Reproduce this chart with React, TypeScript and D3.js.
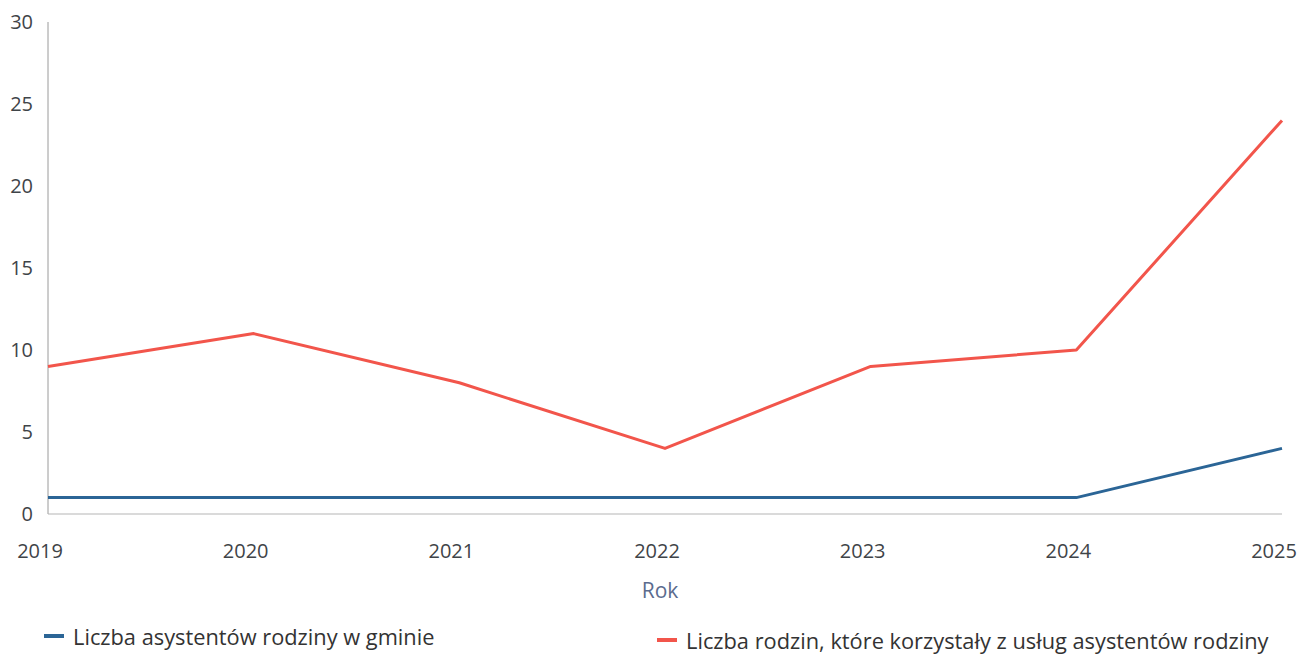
import React from "react";
import * as d3 from "d3";

const years = [2019, 2020, 2021, 2022, 2023, 2024, 2025];
const asystenci = [1, 1, 1, 1, 1, 1, 4];
const rodziny = [9, 11, 8, 4, 9, 10, 24];
const yTicks = [0, 5, 10, 15, 20, 25, 30];
const seriesNames = [
  "Liczba asystentów rodziny w gminie",
  "Liczba rodzin, które korzystały z usług asystentów rodziny",
];
const xTitle = "Rok";

const W = 1309;
const H = 661;
const FONT = "'Open Sans', 'Noto Sans', sans-serif";
const BLUE = "#2b6596";
const RED = "#f2554b";

export default function App() {
  const x = d3.scaleLinear().domain([2019, 2025]).range([48, 1282]);
  const y = d3.scaleLinear().domain([0, 30]).range([514, 22]);
  const line = d3
    .line<number>()
    .x((_, i) => x(years[i]))
    .y((d) => y(d));

  return (
    <div style={{ position: "fixed", left: 0, top: 0, background: "#fff" }}>
      <svg width={W} height={H} style={{ display: "block", fontFamily: FONT }}>
        <rect width={W} height={H} fill="#fff" />
        {/* axes */}
        <line x1={x(2019)} x2={x(2019)} y1={y(30)} y2={y(0)} stroke="#9a9a9a" strokeWidth={1} />
        <line x1={x(2019)} x2={x(2025)} y1={y(0)} y2={y(0)} stroke="#b5b5b5" strokeWidth={1} />
        {yTicks.map((t) => (
          <text key={t} x={33} y={y(t) + 7} textAnchor="end" fontSize={20} fill="#3f4448">
            {t}
          </text>
        ))}
        {years.map((yr) => (
          <text key={yr} x={x(yr) - 8} y={558} textAnchor="middle" fontSize={20} fill="#3f4448">
            {yr}
          </text>
        ))}
        <text x={660} y={598} textAnchor="middle" fontSize={21} fill="#5b6b8e">
          {xTitle}
        </text>
        {/* lines */}
        <path d={line(asystenci) || ""} fill="none" stroke={BLUE} strokeWidth={3} strokeLinejoin="round" />
        <path d={line(rodziny) || ""} fill="none" stroke={RED} strokeWidth={3} strokeLinejoin="round" />
        {/* legend */}
        <line x1={44} x2={64} y1={636} y2={636} stroke={BLUE} strokeWidth={4} />
        <text x={73} y={645} fontSize={21.8} fill="#333">
          {seriesNames[0]}
        </text>
        <line x1={657} x2={677} y1={640} y2={640} stroke={RED} strokeWidth={4} />
        <text x={686} y={649} fontSize={21.8} fill="#333">
          {seriesNames[1]}
        </text>
      </svg>
    </div>
  );
}
